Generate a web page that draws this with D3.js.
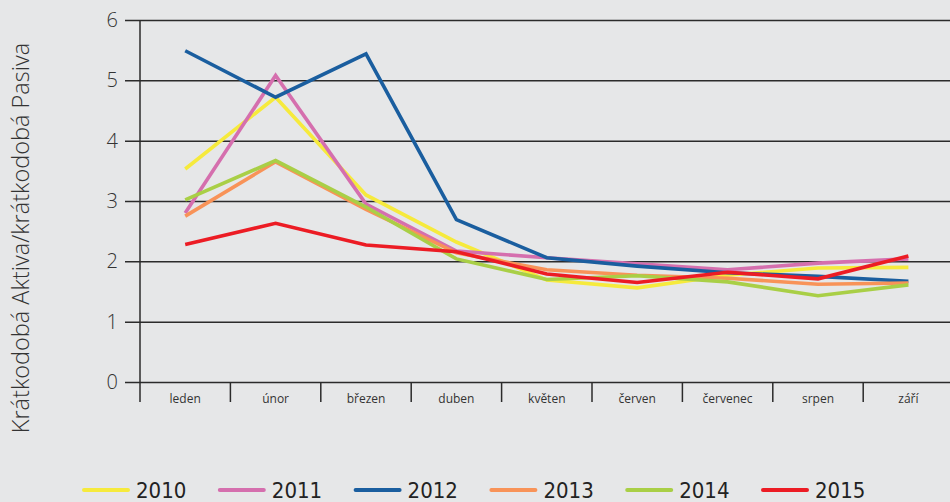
<!DOCTYPE html>
<html><head><meta charset="utf-8">
<script src="https://cdn.jsdelivr.net/npm/d3@7"></script>
<style>body{margin:0;background:#e6e7e8;}svg{display:block;}</style>
</head><body>
<svg id="c" width="950" height="502"></svg>
<script>
const categories = ["leden","únor","březen","duben","květen","červen","červenec","srpen","září"];
const years = ["2010","2011","2012","2013","2014","2015"];
const s2010 = [3.53,4.72,3.10,2.32,1.69,1.56,1.77,1.89,1.90];
const s2011 = [2.80,5.08,2.95,2.17,2.06,1.96,1.86,1.97,2.04];
const s2012 = [5.49,4.72,5.44,2.69,2.06,1.92,1.81,1.75,1.67];
const s2013 = [2.75,3.65,2.86,2.14,1.86,1.77,1.72,1.62,1.64];
const s2014 = [3.02,3.67,2.90,2.04,1.70,1.76,1.66,1.43,1.61];
const s2015 = [2.28,2.63,2.27,2.16,1.79,1.65,1.82,1.71,2.09];
const yTicks = [0,1,2,3,4,5,6];
const colors = ["#f6ea3c","#d56fae","#1a5e9f","#f89358","#a9cf46","#ec1c24"];
const series = [s2010,s2011,s2012,s2013,s2014,s2015];

const svg = d3.select("#c");
svg.append("rect").attr("width",950).attr("height",502).attr("fill","#e6e7e8");

const x = d3.scaleBand().domain(categories).range([140, 140+9*90.4]).padding(0);
const y = d3.scaleLinear().domain([0,6]).range([382,20]);
const ink = "#2b2b2b";

// gridlines + y axis
const yAxis = d3.axisLeft(y).tickValues(yTicks).tickSize(-(950-140)).tickPadding(22).tickFormat(d3.format("d"));
const gy = svg.append("g").attr("transform","translate(140,0)").call(yAxis);
gy.select(".domain").remove();
gy.selectAll(".tick line").attr("x1",-15).attr("stroke",ink).attr("stroke-width",1.5);
gy.selectAll(".tick text").attr("x",-22).attr("fill","#333").attr("font-family","Open Sans").attr("font-size",20).attr("font-weight",300);

// vertical y axis line
svg.append("line").attr("x1",140).attr("x2",140).attr("y1",y(6)).attr("y2",402).attr("stroke",ink).attr("stroke-width",1.5);

// x axis: separator ticks between bands
const gx = svg.append("g");
categories.forEach((c,i)=>{
  if(i>0) gx.append("line").attr("x1",x(c)).attr("x2",x(c)).attr("y1",382).attr("y2",402).attr("stroke",ink).attr("stroke-width",1.5);
});
gx.append("line").attr("x1",x(categories[8])+x.bandwidth()).attr("x2",x(categories[8])+x.bandwidth()).attr("y1",382).attr("y2",402).attr("stroke",ink).attr("stroke-width",1.5);
gx.selectAll("text.cat").data(categories).join("text")
  .attr("x",d=>x(d)+x.bandwidth()/2).attr("y",403)
  .attr("text-anchor","middle").attr("fill","#333")
  .attr("font-family","Open Sans").attr("font-size",12).text(d=>d);

// lines
const line = d3.line().x((d,i)=>x(categories[i])+x.bandwidth()/2).y(d=>y(d));
series.forEach((s,k)=>{
  svg.append("path").datum(s).attr("d",line).attr("fill","none")
    .attr("stroke",colors[k]).attr("stroke-width",3.6).attr("stroke-linejoin","miter");
});

// y title
svg.append("text").attr("transform","translate(29,238) rotate(-90)")
  .attr("text-anchor","middle").attr("fill","#333")
  .attr("font-family","Open Sans").attr("font-size",23.5).attr("font-weight",300)
  .text("Krátkodobá Aktiva/krátkodobá Pasiva");

// legend
const lg = svg.append("g");
years.forEach((yr,k)=>{
  const x0 = 84 + k*135.8;
  lg.append("line").attr("x1",x0).attr("x2",x0+44).attr("y1",490).attr("y2",490)
    .attr("stroke",colors[k]).attr("stroke-width",4).attr("stroke-linecap","round");
  lg.append("text").attr("x",x0+52).attr("y",498).attr("fill","#222")
    .attr("font-family","DejaVu Sans Condensed").attr("font-stretch","condensed").attr("font-size",22)
    .text(yr);
});
</script>
</body></html>
